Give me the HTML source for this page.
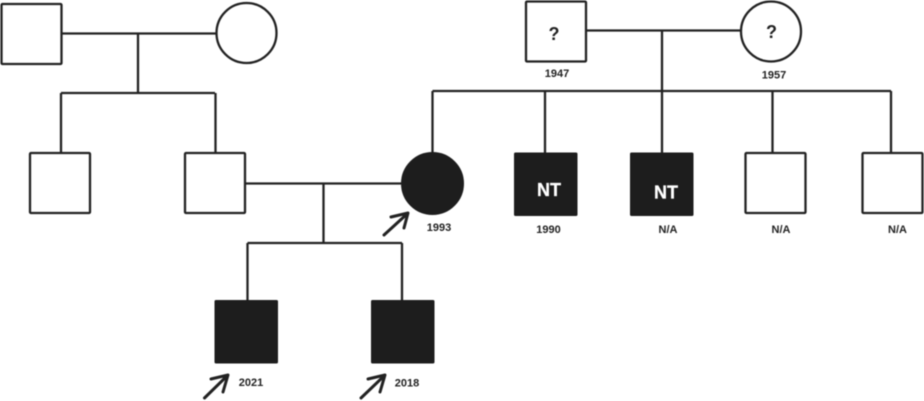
<!DOCTYPE html>
<html>
<head>
<meta charset="utf-8">
<style>
html,body{margin:0;padding:0;background:#fff;width:924px;height:401px;overflow:hidden}
svg{display:block;filter:blur(0.45px)}
text{font-family:"Liberation Sans",sans-serif;font-weight:bold;text-anchor:middle;fill:#222}
.l{font-size:11px}
.q{font-size:18px}
.n{font-size:18px;fill:#fff;stroke:#fff;stroke-width:.3px}
</style>
</head>
<body>
<svg width="924" height="401" viewBox="0 0 924 401" xmlns="http://www.w3.org/2000/svg">
<g fill="none" stroke="#222" stroke-width="2.3" stroke-linejoin="round">
  <!-- left family lines -->
  <path d="M61 33.500H217M138 33.500V93M61 93H215M61 93V153M215.500 93V153"/>
  <path d="M245 183.500H401M323.500 183.500V243M247.500 243H402M247.500 243V301M402 243V301"/>
  <!-- right family lines -->
  <path d="M586 30.500H741M662 30.500V153M432.500 91H891M432.500 91V153M545 91V153M772.500 91V153M891 91V153"/>
  <!-- open shapes -->
  <rect x="1.500" y="4" width="60" height="60" rx="1" fill="#fff"/>
  <circle cx="246.500" cy="33" r="30" fill="#fff"/>
  <rect x="30" y="153" width="60" height="60" rx="1" fill="#fff"/>
  <rect x="185" y="153" width="60" height="60" rx="1" fill="#fff"/>
  <rect x="526" y="1.500" width="60" height="60" rx="1" fill="#fff"/>
  <circle cx="771" cy="31.500" r="30" fill="#fff"/>
  <rect x="745.500" y="153" width="60" height="60" rx="1" fill="#fff"/>
  <rect x="862.500" y="153" width="60" height="60" rx="1" fill="#fff"/>
</g>
<g fill="#1d1d1d" stroke="#1d1d1d" stroke-width="1" stroke-linejoin="round">
  <circle cx="432.500" cy="183.500" r="31"/>
  <rect x="514.500" y="153" width="62.500" height="62.500" rx="1"/>
  <rect x="630.500" y="153" width="62.500" height="62.500" rx="1"/>
  <rect x="215" y="300.500" width="62.500" height="62.500" rx="1"/>
  <rect x="371.500" y="300.500" width="62.500" height="62.500" rx="1"/>
</g>
<g fill="none" stroke="#222" stroke-width="3" stroke-linecap="round" stroke-linejoin="round">
  <path d="M384 235L407 214M391 217L408 213L404 228"/>
  <path d="M204.500 398L227 376M211 379L228 375L223 392"/>
  <path d="M361 398L384 376M368 379L385 375L380 392"/>
</g>
<text class="q" x="554" y="40">?</text>
<text class="q" x="771.500" y="38">?</text>
<text class="n" x="549" y="196">NT</text>
<text class="n" x="666" y="198.500">NT</text>
<text class="l" x="557" y="77">1947</text>
<text class="l" x="774" y="78.500">1957</text>
<text class="l" x="439" y="231">1993</text>
<text class="l" x="548.500" y="233">1990</text>
<text class="l" x="668" y="233">N/A</text>
<text class="l" x="781" y="233">N/A</text>
<text class="l" x="897.500" y="233">N/A</text>
<text class="l" x="251" y="386">2021</text>
<text class="l" x="407" y="386.500">2018</text>
</svg>
</body>
</html>
